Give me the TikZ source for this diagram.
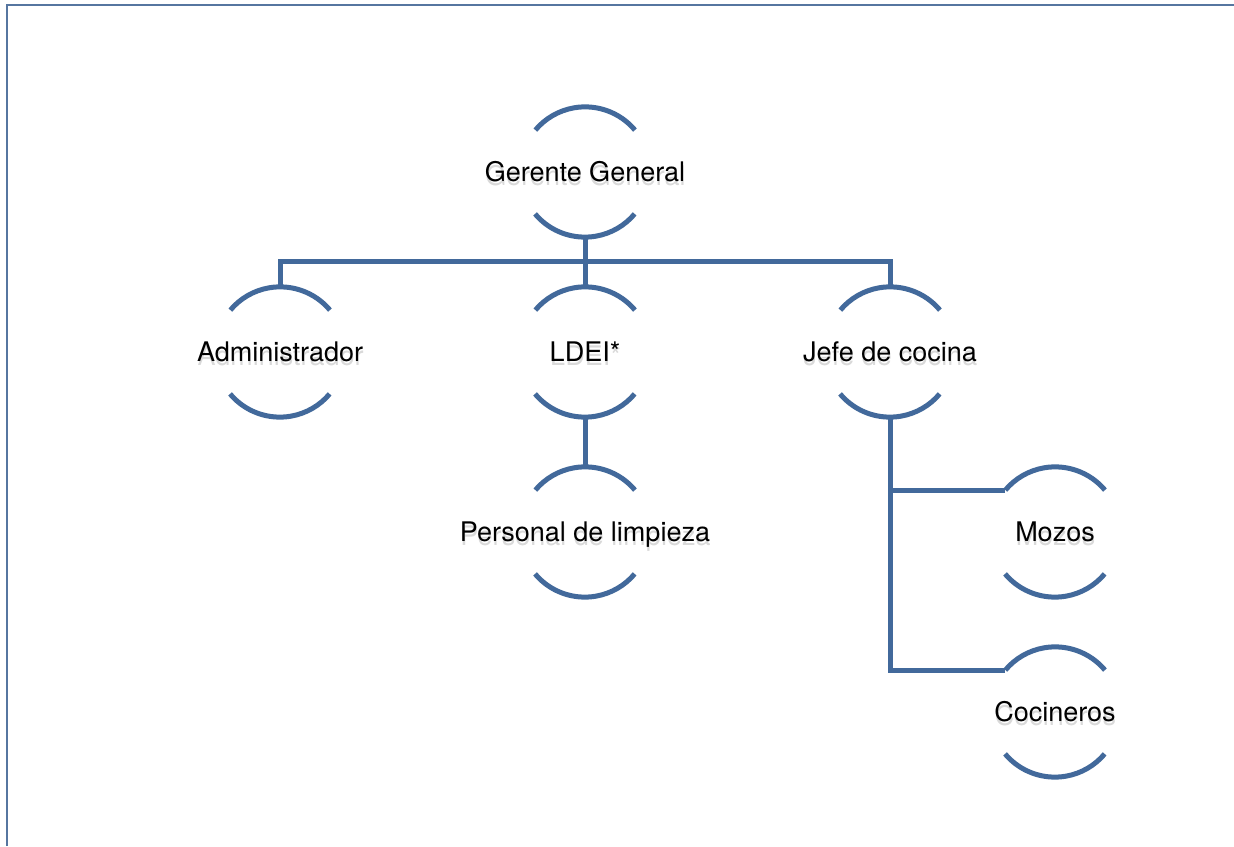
\documentclass[tikz,border=0pt]{standalone}
\usepackage{fontspec}
\setmainfont{TeX Gyre Heros}
\definecolor{orgblue}{RGB}{66,105,155}
\definecolor{frameblue}{RGB}{86,118,160}
\tikzset{
  orgcircle/.style={circle, minimum size=130pt, inner sep=0pt, draw=none},
  orgtext/.style={inner sep=0pt, font=\fontsize{27}{31}\selectfont,
    text height=19.5pt, text depth=0pt},
  shadowtext/.style={orgtext, text=black, text opacity=0.15},
  arcline/.style={draw=orgblue, line width=5pt},
  conn/.style={draw=orgblue, line width=5pt, line join=miter},
  frame/.style={draw=frameblue, line width=1.8pt}
}
% one chart box: an invisible circle carrying the arcs, a soft shadow, the label
\newcommand{\chartbox}[3]{%
  \node[orgcircle] (#1) at (#2) {};
  \node[shadowtext] (#1-shadow) at ([shift={(0.5pt,-3.5pt)}]#1.center) {#3};
  \node[orgtext] (#1-label) at (#1.center) {#3};
}
\begin{document}
\begin{tikzpicture}[x=1pt,y=1pt]
  \useasboundingbox (0,0) rectangle (1234,846);
  \fill[white] (0,0) rectangle (1234,846);
  % page frame
  \coordinate (ftl) at (7,841);
  \coordinate (ftr) at (1234,841);
  \coordinate (fbl) at (7,0);
  \draw[frame] (fbl) -- (ftl) -- (ftr);

  \chartbox{gg}{585,674}{Gerente General}
  \chartbox{adm}{280,494}{Administrador}
  \chartbox{ldei}{585,494}{LDEI*}
  \chartbox{jefe}{890,494}{Jefe de cocina}
  \chartbox{pers}{585,314}{Personal de limpieza}
  \chartbox{moz}{1055,314}{Mozos}
  \chartbox{coc}{1055,134}{Cocineros}

  % upper and lower arcs of every box
  \foreach \n in {gg,adm,ldei,jefe,pers,moz,coc}{
    \draw[arcline] (\n.40) arc[start angle=40, end angle=140, radius=65pt];
    \draw[arcline] (\n.220) arc[start angle=220, end angle=320, radius=65pt];
  }

  % connectors
  \coordinate (bus) at (585,584);
  \draw[conn] (adm.north) -- (adm.north |- bus) -- (jefe.north |- bus) -- (jefe.north);
  \draw[conn] (gg.south) -- (ldei.north);
  \draw[conn] (ldei.south) -- (pers.north);
  \draw[conn] (jefe.south) |- (coc.140);
  \draw[conn] (jefe.south |- moz.140) -- (moz.140);
\end{tikzpicture}
\end{document}
